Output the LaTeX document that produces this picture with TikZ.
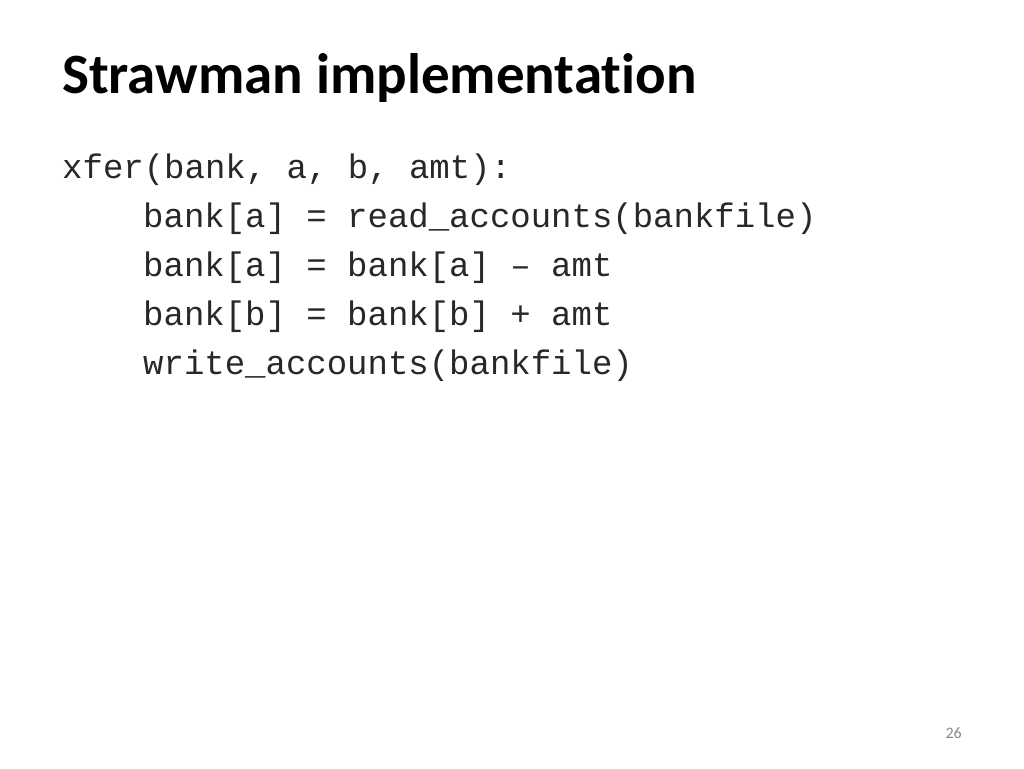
\documentclass[tikz,border=0pt]{standalone}
\usepackage{fontspec}
\setmainfont{Carlito}[Ligatures=NoCommon]
\setmonofont{Liberation Mono}
\definecolor{pagegray}{RGB}{137,137,137}
\definecolor{codeink}{RGB}{40,40,40}
\tikzset{
  titletext/.style={anchor=base west, inner sep=0pt, font=\fontsize{57}{60}\selectfont\bfseries},
  codeline/.style={anchor=base west, inner sep=0pt, text=codeink, font=\fontsize{34}{40}\selectfont\ttfamily},
  pagenum/.style={anchor=base east, inner sep=0pt, text=pagegray, font=\fontsize{16}{18}\selectfont}
}
\begin{document}
\begin{tikzpicture}[x=1pt,y=-1pt]
\useasboundingbox (0,0) rectangle (1024,768);
\fill[white] (0,0) rectangle (1024,768);
\node[titletext] (title) at (62,93) {Strawman implementation};
\node[codeline] (l1) at (62,178) {xfer(bank, a, b, amt):};
\node[codeline] (l2) at (143,227) {bank[a] = read\_accounts(bankfile)};
\node[codeline] (l3) at (143,276) {bank[a] = bank[a] – amt};
\node[codeline] (l4) at (143,325) {bank[b] = bank[b] + amt};
\node[codeline] (l5) at (143,374) {write\_accounts(bankfile)};
\node[pagenum] (pg) at (962,738) {26};
\end{tikzpicture}
\end{document}
